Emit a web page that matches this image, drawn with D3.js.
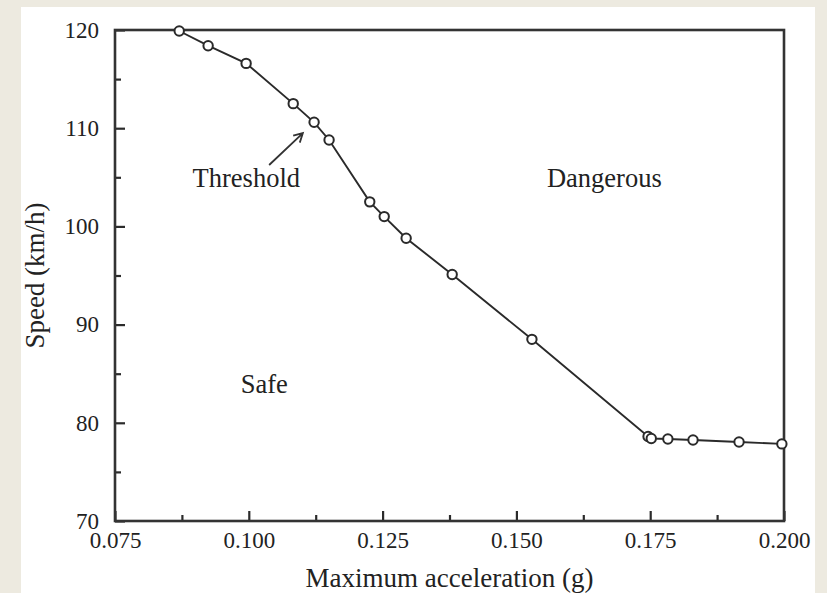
<!DOCTYPE html>
<html>
<head>
  <meta charset="utf-8">
  <title>Speed threshold</title>
  <script type="text/javascript" src="https://cdn.jsdelivr.net/npm/d3@7"></script>
  <style>
    body {
      margin: 0;
      background: #edeae0;
    }
    text {
      font-family: "Liberation Serif", "Times New Roman", serif;
      fill: #222;
    }
    .axis path, .axis line {
      stroke: #2b2b2b;
    }
    .axis text {
      font-size: 23px;
    }
    .frame {
      fill: none;
      stroke: #333;
      stroke-width: 2.6;
    }
    .curve {
      fill: none;
      stroke: #2a2a2a;
      stroke-width: 1.9;
    }
    .dot {
      fill: #fff;
      stroke: #2a2a2a;
      stroke-width: 2;
    }
    .note {
      font-size: 26.5px;
    }
    .label {
      font-size: 27px;
    }
  </style>
</head>
<body>
<script>
  // data
  var accel = [0.0870, 0.0924, 0.0995, 0.1083, 0.1122, 0.1150, 0.1226, 0.1253,
               0.1294, 0.1380, 0.1529, 0.1746, 0.1752, 0.1783, 0.1830, 0.1916, 0.1996];
  var speed = [119.9, 118.4, 116.6, 112.5, 110.6, 108.8, 102.5, 101.0,
               98.8, 95.1, 88.5, 78.6, 78.4, 78.35, 78.25, 78.05, 77.85];

  var xTicks = [0.075, 0.100, 0.125, 0.150, 0.175, 0.200];
  var yTicks = [70, 80, 90, 100, 110, 120];
  var xMinor = [0.0875, 0.1125, 0.1375, 0.1625, 0.1875];
  var yMinor = [75, 85, 95, 105, 115];

  var regionNames = ["Threshold", "Dangerous", "Safe"];
  var regionX = [0.0895, 0.1557, 0.0985];
  var regionY = [104.0, 104.0, 83.0];

  // arrow from the "Threshold" label to the curve
  var arrowFrom = [0.1038, 106.25];
  var arrowTo = [0.1101, 109.5];

  var W = 827, H = 593;
  var margin = {top: 30, right: 43, bottom: 72, left: 115},
      width = W - margin.left - margin.right,
      height = H - margin.top - margin.bottom;

  var data = accel.map(function (a, i) { return {x: a, y: speed[i]}; });

  var x = d3.scaleLinear().domain([0.075, 0.200]).range([0, width]);
  var y = d3.scaleLinear().domain([70, 120]).range([height, 0]);

  var root = d3.select("body").append("svg")
      .attr("width", W)
      .attr("height", H);

  // white panel on the beige page
  root.append("rect")
      .attr("x", 21).attr("y", 7)
      .attr("width", 794).attr("height", H - 7)
      .attr("fill", "#fff");

  var svg = root.append("g")
      .attr("transform", "translate(" + margin.left + "," + margin.top + ")");

  var xAxis = d3.axisBottom(x).tickValues(xTicks).tickFormat(d3.format(".3f"))
      .tickSizeInner(-10).tickSizeOuter(0).tickPadding(11);
  var yAxis = d3.axisLeft(y).tickValues(yTicks)
      .tickSizeInner(-10).tickSizeOuter(0).tickPadding(16);

  function tidy(g) {
    g.select(".domain").remove();
    g.selectAll("line").attr("stroke-width", 2.2);
  }

  svg.append("g")
      .attr("class", "x axis")
      .attr("transform", "translate(0," + height + ")")
      .call(xAxis)
      .call(tidy);

  svg.append("g")
      .attr("class", "y axis")
      .call(yAxis)
      .call(tidy);

  // minor ticks
  svg.append("g").attr("class", "axis")
      .attr("transform", "translate(0," + height + ")")
      .call(d3.axisBottom(x).tickValues(xMinor).tickSizeInner(-6).tickSizeOuter(0).tickFormat(""))
      .call(tidy);

  svg.append("g").attr("class", "axis")
      .call(d3.axisLeft(y).tickValues(yMinor).tickSizeInner(-6).tickSizeOuter(0).tickFormat(""))
      .call(tidy);

  svg.append("rect")
      .attr("class", "frame")
      .attr("width", width)
      .attr("height", height);

  var line = d3.line()
      .x(function (d) { return x(d.x); })
      .y(function (d) { return y(d.y); });

  svg.append("path")
      .datum(data)
      .attr("class", "curve")
      .attr("d", line);

  svg.selectAll("circle.dot")
      .data(data)
      .enter().append("circle")
      .attr("class", "dot")
      .attr("cx", function (d) { return x(d.x); })
      .attr("cy", function (d) { return y(d.y); })
      .attr("r", 4.7);

  // region labels
  svg.selectAll("text.note")
      .data(regionNames)
      .enter().append("text")
      .attr("class", "note")
      .attr("x", function (d, i) { return x(regionX[i]); })
      .attr("y", function (d, i) { return y(regionY[i]); })
      .text(function (d) { return d; });

  // arrow
  var ax0 = x(arrowFrom[0]), ay0 = y(arrowFrom[1]),
      ax1 = x(arrowTo[0]), ay1 = y(arrowTo[1]);
  var ang = Math.atan2(ay1 - ay0, ax1 - ax0), hl = 10;
  svg.append("path")
      .attr("fill", "none")
      .attr("stroke", "#333")
      .attr("stroke-width", 1.8)
      .attr("d", "M" + ax0 + "," + ay0 + "L" + ax1 + "," + ay1 +
          "M" + (ax1 - hl * Math.cos(ang - 0.5)) + "," + (ay1 - hl * Math.sin(ang - 0.5)) +
          "L" + ax1 + "," + ay1 +
          "L" + (ax1 - hl * Math.cos(ang + 0.5)) + "," + (ay1 - hl * Math.sin(ang + 0.5)));

  // axis titles
  svg.append("text")
      .attr("class", "label")
      .attr("x", width / 2)
      .attr("y", height + 66)
      .style("text-anchor", "middle")
      .text("Maximum acceleration (g)");

  svg.append("text")
      .attr("class", "label")
      .attr("transform", "rotate(-90)")
      .attr("x", -height / 2)
      .attr("y", -71)
      .style("text-anchor", "middle")
      .text("Speed (km/h)");
</script>
</body>
</html>
